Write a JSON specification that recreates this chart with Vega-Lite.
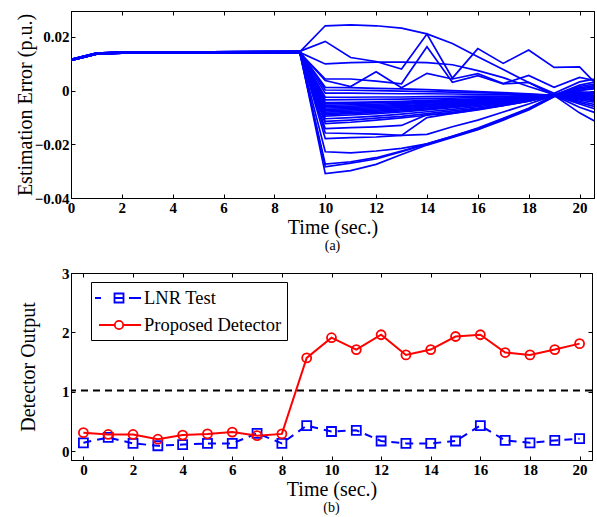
{
"$schema": "https://vega.github.io/schema/vega-lite/v6.json",
"padding": {"left": 14, "top": 10, "right": 2, "bottom": 2},
"background": "white",
"bounds": "flush",
"datasets": {
"err": [
{"s":1,"t":0,"v":0.0113},{"s":1,"t":1,"v":0.0136},{"s":1,"t":2,"v":0.0140},{"s":1,"t":9,"v":0.0144},
{"s":1,"t":10,"v":0.0241},{"s":1,"t":11,"v":0.0244},{"s":1,"t":12,"v":0.0241},{"s":1,"t":13,"v":0.0232},{"s":1,"t":14,"v":0.0211},{"s":1,"t":15,"v":0.0175},{"s":1,"t":16,"v":0.0126},{"s":1,"t":17,"v":0.0078},{"s":1,"t":18,"v":0.0030},{"s":1,"t":19,"v":-0.0018},{"s":1,"t":20,"v":-0.0062},{"s":1,"t":21,"v":-0.0095},
{"s":2,"t":0,"v":0.0115},{"s":2,"t":1,"v":0.0138},{"s":2,"t":2,"v":0.0142},{"s":2,"t":9,"v":0.0146},
{"s":2,"t":10,"v":0.0183},{"s":2,"t":11,"v":0.0123},{"s":2,"t":12,"v":0.0108},{"s":2,"t":13,"v":0.0080},{"s":2,"t":14,"v":0.0210},{"s":2,"t":15,"v":0.0046},{"s":2,"t":16,"v":0.0156},{"s":2,"t":17,"v":0.0101},{"s":2,"t":18,"v":0.0151},{"s":2,"t":19,"v":0.0086},{"s":2,"t":20,"v":0.0088},{"s":2,"t":21,"v":-0.0009},
{"s":3,"t":0,"v":0.0114},{"s":3,"t":1,"v":0.0137},{"s":3,"t":2,"v":0.0141},{"s":3,"t":9,"v":0.0142},
{"s":3,"t":10,"v":0.0099},{"s":3,"t":11,"v":0.0104},{"s":3,"t":12,"v":0.0106},{"s":3,"t":13,"v":0.0106},{"s":3,"t":14,"v":0.0104},{"s":3,"t":15,"v":0.0096},{"s":3,"t":16,"v":0.0074},{"s":3,"t":17,"v":0.0048},{"s":3,"t":18,"v":0.0015},{"s":3,"t":19,"v":-0.0015},{"s":3,"t":20,"v":0.0010},{"s":3,"t":21,"v":0.0025},
{"s":4,"t":0,"v":0.0116},{"s":4,"t":1,"v":0.0139},{"s":4,"t":2,"v":0.0143},{"s":4,"t":9,"v":0.0139},
{"s":4,"t":10,"v":0.0043},{"s":4,"t":11,"v":0.0043},{"s":4,"t":12,"v":0.0035},{"s":4,"t":13,"v":0.0025},{"s":4,"t":14,"v":0.0163},{"s":4,"t":15,"v":0.0031},{"s":4,"t":16,"v":0.0055},{"s":4,"t":17,"v":0.0025},{"s":4,"t":18,"v":0.0030},{"s":4,"t":19,"v":-0.0010},{"s":4,"t":20,"v":0.0032},{"s":4,"t":21,"v":0.0050},
{"s":5,"t":0,"v":0.0112},{"s":5,"t":1,"v":0.0135},{"s":5,"t":2,"v":0.0139},{"s":5,"t":9,"v":0.0141},
{"s":5,"t":10,"v":0.0037},{"s":5,"t":11,"v":0.0015},{"s":5,"t":12,"v":0.0070},{"s":5,"t":13,"v":0.0010},{"s":5,"t":14,"v":0.0064},{"s":5,"t":15,"v":0.0043},{"s":5,"t":16,"v":0.0063},{"s":5,"t":17,"v":0.0026},{"s":5,"t":18,"v":0.0056},{"s":5,"t":19,"v":0.0012},{"s":5,"t":20,"v":0.0049},{"s":5,"t":21,"v":0.0030},
{"s":6,"t":0,"v":0.0113},{"s":6,"t":1,"v":0.0136},{"s":6,"t":2,"v":0.0140},{"s":6,"t":9,"v":0.0144},
{"s":6,"t":10,"v":0.0012},{"s":6,"t":11,"v":0.0011},{"s":6,"t":12,"v":0.0008},{"s":6,"t":13,"v":0.0006},{"s":6,"t":14,"v":0.0003},{"s":6,"t":15,"v":0.0000},{"s":6,"t":16,"v":-0.0004},{"s":6,"t":17,"v":-0.0008},{"s":6,"t":18,"v":-0.0012},{"s":6,"t":19,"v":-0.0018},{"s":6,"t":20,"v":0.0020},{"s":6,"t":21,"v":0.0040},
{"s":7,"t":0,"v":0.0115},{"s":7,"t":1,"v":0.0138},{"s":7,"t":2,"v":0.0142},{"s":7,"t":9,"v":0.0146},
{"s":7,"t":10,"v":0.0002},{"s":7,"t":11,"v":0.0001},{"s":7,"t":12,"v":0.0000},{"s":7,"t":13,"v":-0.0002},{"s":7,"t":14,"v":-0.0004},{"s":7,"t":15,"v":-0.0006},{"s":7,"t":16,"v":-0.0008},{"s":7,"t":17,"v":-0.0011},{"s":7,"t":18,"v":-0.0014},{"s":7,"t":19,"v":-0.0018},{"s":7,"t":20,"v":-0.0010},{"s":7,"t":21,"v":-0.0005},
{"s":8,"t":0,"v":0.0114},{"s":8,"t":1,"v":0.0137},{"s":8,"t":2,"v":0.0141},{"s":8,"t":9,"v":0.0142},
{"s":8,"t":10,"v":-0.0010},{"s":8,"t":11,"v":-0.0010},{"s":8,"t":12,"v":-0.0011},{"s":8,"t":13,"v":-0.0012},{"s":8,"t":14,"v":-0.0012},{"s":8,"t":15,"v":-0.0013},{"s":8,"t":16,"v":-0.0014},{"s":8,"t":17,"v":-0.0015},{"s":8,"t":18,"v":-0.0016},{"s":8,"t":19,"v":-0.0018},{"s":8,"t":20,"v":-0.0030},{"s":8,"t":21,"v":-0.0040},
{"s":9,"t":0,"v":0.0116},{"s":9,"t":1,"v":0.0139},{"s":9,"t":2,"v":0.0143},{"s":9,"t":9,"v":0.0139},
{"s":9,"t":10,"v":-0.0025},{"s":9,"t":11,"v":-0.0025},{"s":9,"t":12,"v":-0.0024},{"s":9,"t":13,"v":-0.0024},{"s":9,"t":14,"v":-0.0023},{"s":9,"t":15,"v":-0.0022},{"s":9,"t":16,"v":-0.0021},{"s":9,"t":17,"v":-0.0021},{"s":9,"t":18,"v":-0.0019},{"s":9,"t":19,"v":-0.0018},{"s":9,"t":20,"v":0.0005},{"s":9,"t":21,"v":0.0020},
{"s":10,"t":0,"v":0.0112},{"s":10,"t":1,"v":0.0135},{"s":10,"t":2,"v":0.0139},{"s":10,"t":9,"v":0.0141},
{"s":10,"t":10,"v":-0.0035},{"s":10,"t":11,"v":-0.0034},{"s":10,"t":12,"v":-0.0033},{"s":10,"t":13,"v":-0.0032},{"s":10,"t":14,"v":-0.0030},{"s":10,"t":15,"v":-0.0028},{"s":10,"t":16,"v":-0.0026},{"s":10,"t":17,"v":-0.0024},{"s":10,"t":18,"v":-0.0021},{"s":10,"t":19,"v":-0.0018},{"s":10,"t":20,"v":-0.0020},{"s":10,"t":21,"v":-0.0015},
{"s":11,"t":0,"v":0.0113},{"s":11,"t":1,"v":0.0136},{"s":11,"t":2,"v":0.0140},{"s":11,"t":9,"v":0.0144},
{"s":11,"t":10,"v":-0.0045},{"s":11,"t":11,"v":-0.0044},{"s":11,"t":12,"v":-0.0042},{"s":11,"t":13,"v":-0.0040},{"s":11,"t":14,"v":-0.0037},{"s":11,"t":15,"v":-0.0034},{"s":11,"t":16,"v":-0.0031},{"s":11,"t":17,"v":-0.0028},{"s":11,"t":18,"v":-0.0023},{"s":11,"t":19,"v":-0.0018},{"s":11,"t":20,"v":-0.0040},{"s":11,"t":21,"v":-0.0060},
{"s":12,"t":0,"v":0.0115},{"s":12,"t":1,"v":0.0138},{"s":12,"t":2,"v":0.0142},{"s":12,"t":9,"v":0.0146},
{"s":12,"t":10,"v":-0.0050},{"s":12,"t":11,"v":-0.0048},{"s":12,"t":12,"v":-0.0046},{"s":12,"t":13,"v":-0.0044},{"s":12,"t":14,"v":-0.0040},{"s":12,"t":15,"v":-0.0037},{"s":12,"t":16,"v":-0.0033},{"s":12,"t":17,"v":-0.0029},{"s":12,"t":18,"v":-0.0024},{"s":12,"t":19,"v":-0.0018},{"s":12,"t":20,"v":-0.0015},{"s":12,"t":21,"v":-0.0025},
{"s":13,"t":0,"v":0.0114},{"s":13,"t":1,"v":0.0137},{"s":13,"t":2,"v":0.0141},{"s":13,"t":9,"v":0.0142},
{"s":13,"t":10,"v":-0.0055},{"s":13,"t":11,"v":-0.0053},{"s":13,"t":12,"v":-0.0051},{"s":13,"t":13,"v":-0.0048},{"s":13,"t":14,"v":-0.0044},{"s":13,"t":15,"v":-0.0040},{"s":13,"t":16,"v":-0.0036},{"s":13,"t":17,"v":-0.0031},{"s":13,"t":18,"v":-0.0025},{"s":13,"t":19,"v":-0.0018},{"s":13,"t":20,"v":-0.0025},{"s":13,"t":21,"v":-0.0035},
{"s":14,"t":0,"v":0.0116},{"s":14,"t":1,"v":0.0139},{"s":14,"t":2,"v":0.0143},{"s":14,"t":9,"v":0.0139},
{"s":14,"t":10,"v":-0.0060},{"s":14,"t":11,"v":-0.0058},{"s":14,"t":12,"v":-0.0055},{"s":14,"t":13,"v":-0.0052},{"s":14,"t":14,"v":-0.0047},{"s":14,"t":15,"v":-0.0043},{"s":14,"t":16,"v":-0.0038},{"s":14,"t":17,"v":-0.0033},{"s":14,"t":18,"v":-0.0026},{"s":14,"t":19,"v":-0.0018},{"s":14,"t":20,"v":0.0000},{"s":14,"t":21,"v":0.0010},
{"s":15,"t":0,"v":0.0112},{"s":15,"t":1,"v":0.0135},{"s":15,"t":2,"v":0.0139},{"s":15,"t":9,"v":0.0141},
{"s":15,"t":10,"v":-0.0065},{"s":15,"t":11,"v":-0.0063},{"s":15,"t":12,"v":-0.0059},{"s":15,"t":13,"v":-0.0056},{"s":15,"t":14,"v":-0.0051},{"s":15,"t":15,"v":-0.0046},{"s":15,"t":16,"v":-0.0041},{"s":15,"t":17,"v":-0.0035},{"s":15,"t":18,"v":-0.0027},{"s":15,"t":19,"v":-0.0018},{"s":15,"t":20,"v":-0.0035},{"s":15,"t":21,"v":-0.0050},
{"s":16,"t":0,"v":0.0113},{"s":16,"t":1,"v":0.0136},{"s":16,"t":2,"v":0.0140},{"s":16,"t":9,"v":0.0144},
{"s":16,"t":10,"v":-0.0070},{"s":16,"t":11,"v":-0.0067},{"s":16,"t":12,"v":-0.0064},{"s":16,"t":13,"v":-0.0060},{"s":16,"t":14,"v":-0.0054},{"s":16,"t":15,"v":-0.0049},{"s":16,"t":16,"v":-0.0043},{"s":16,"t":17,"v":-0.0036},{"s":16,"t":18,"v":-0.0028},{"s":16,"t":19,"v":-0.0018},{"s":16,"t":20,"v":-0.0022},{"s":16,"t":21,"v":-0.0020},
{"s":17,"t":0,"v":0.0115},{"s":17,"t":1,"v":0.0138},{"s":17,"t":2,"v":0.0142},{"s":17,"t":9,"v":0.0146},
{"s":17,"t":10,"v":-0.0075},{"s":17,"t":11,"v":-0.0072},{"s":17,"t":12,"v":-0.0068},{"s":17,"t":13,"v":-0.0064},{"s":17,"t":14,"v":-0.0058},{"s":17,"t":15,"v":-0.0052},{"s":17,"t":16,"v":-0.0045},{"s":17,"t":17,"v":-0.0038},{"s":17,"t":18,"v":-0.0029},{"s":17,"t":19,"v":-0.0018},{"s":17,"t":20,"v":-0.0050},{"s":17,"t":21,"v":-0.0080},
{"s":18,"t":0,"v":0.0114},{"s":18,"t":1,"v":0.0137},{"s":18,"t":2,"v":0.0141},{"s":18,"t":9,"v":0.0142},
{"s":18,"t":10,"v":-0.0080},{"s":18,"t":11,"v":-0.0077},{"s":18,"t":12,"v":-0.0073},{"s":18,"t":13,"v":-0.0068},{"s":18,"t":14,"v":-0.0061},{"s":18,"t":15,"v":-0.0055},{"s":18,"t":16,"v":-0.0048},{"s":18,"t":17,"v":-0.0040},{"s":18,"t":18,"v":-0.0030},{"s":18,"t":19,"v":-0.0018},{"s":18,"t":20,"v":-0.0005},{"s":18,"t":21,"v":-0.0010},
{"s":19,"t":0,"v":0.0116},{"s":19,"t":1,"v":0.0139},{"s":19,"t":2,"v":0.0143},{"s":19,"t":9,"v":0.0139},
{"s":19,"t":10,"v":-0.0085},{"s":19,"t":11,"v":-0.0082},{"s":19,"t":12,"v":-0.0077},{"s":19,"t":13,"v":-0.0072},{"s":19,"t":14,"v":-0.0065},{"s":19,"t":15,"v":-0.0058},{"s":19,"t":16,"v":-0.0050},{"s":19,"t":17,"v":-0.0042},{"s":19,"t":18,"v":-0.0031},{"s":19,"t":19,"v":-0.0018},{"s":19,"t":20,"v":-0.0030},{"s":19,"t":21,"v":-0.0030},
{"s":20,"t":0,"v":0.0112},{"s":20,"t":1,"v":0.0135},{"s":20,"t":2,"v":0.0139},{"s":20,"t":9,"v":0.0141},
{"s":20,"t":10,"v":-0.0090},{"s":20,"t":11,"v":-0.0086},{"s":20,"t":12,"v":-0.0081},{"s":20,"t":13,"v":-0.0076},{"s":20,"t":14,"v":-0.0068},{"s":20,"t":15,"v":-0.0061},{"s":20,"t":16,"v":-0.0053},{"s":20,"t":17,"v":-0.0043},{"s":20,"t":18,"v":-0.0032},{"s":20,"t":19,"v":-0.0018},{"s":20,"t":20,"v":-0.0018},{"s":20,"t":21,"v":-0.0025},
{"s":21,"t":0,"v":0.0113},{"s":21,"t":1,"v":0.0136},{"s":21,"t":2,"v":0.0140},{"s":21,"t":9,"v":0.0144},
{"s":21,"t":10,"v":-0.0095},{"s":21,"t":11,"v":-0.0091},{"s":21,"t":12,"v":-0.0086},{"s":21,"t":13,"v":-0.0080},{"s":21,"t":14,"v":-0.0072},{"s":21,"t":15,"v":-0.0064},{"s":21,"t":16,"v":-0.0055},{"s":21,"t":17,"v":-0.0045},{"s":21,"t":18,"v":-0.0033},{"s":21,"t":19,"v":-0.0018},{"s":21,"t":20,"v":-0.0045},{"s":21,"t":21,"v":-0.0070},
{"s":22,"t":0,"v":0.0115},{"s":22,"t":1,"v":0.0138},{"s":22,"t":2,"v":0.0142},{"s":22,"t":9,"v":0.0146},
{"s":22,"t":10,"v":-0.0105},{"s":22,"t":11,"v":-0.0101},{"s":22,"t":12,"v":-0.0095},{"s":22,"t":13,"v":-0.0088},{"s":22,"t":14,"v":-0.0079},{"s":22,"t":15,"v":-0.0070},{"s":22,"t":16,"v":-0.0060},{"s":22,"t":17,"v":-0.0049},{"s":22,"t":18,"v":-0.0035},{"s":22,"t":19,"v":-0.0018},{"s":22,"t":20,"v":0.0015},{"s":22,"t":21,"v":0.0030},
{"s":23,"t":0,"v":0.0114},{"s":23,"t":1,"v":0.0137},{"s":23,"t":2,"v":0.0141},{"s":23,"t":9,"v":0.0142},
{"s":23,"t":10,"v":-0.0115},{"s":23,"t":11,"v":-0.0110},{"s":23,"t":12,"v":-0.0103},{"s":23,"t":13,"v":-0.0096},{"s":23,"t":14,"v":-0.0086},{"s":23,"t":15,"v":-0.0076},{"s":23,"t":16,"v":-0.0065},{"s":23,"t":17,"v":-0.0052},{"s":23,"t":18,"v":-0.0037},{"s":23,"t":19,"v":-0.0018},{"s":23,"t":20,"v":-0.0028},{"s":23,"t":21,"v":-0.0045},
{"s":24,"t":0,"v":0.0116},{"s":24,"t":1,"v":0.0139},{"s":24,"t":2,"v":0.0143},{"s":24,"t":9,"v":0.0139},
{"s":24,"t":10,"v":-0.0123},{"s":24,"t":11,"v":-0.0118},{"s":24,"t":12,"v":-0.0110},{"s":24,"t":13,"v":-0.0102},{"s":24,"t":14,"v":-0.0092},{"s":24,"t":15,"v":-0.0081},{"s":24,"t":16,"v":-0.0068},{"s":24,"t":17,"v":-0.0055},{"s":24,"t":18,"v":-0.0039},{"s":24,"t":19,"v":-0.0018},{"s":24,"t":20,"v":-0.0012},{"s":24,"t":21,"v":-0.0010},
{"s":25,"t":0,"v":0.0112},{"s":25,"t":1,"v":0.0135},{"s":25,"t":2,"v":0.0139},{"s":25,"t":9,"v":0.0141},
{"s":25,"t":10,"v":-0.0142},{"s":25,"t":11,"v":-0.0138},{"s":25,"t":12,"v":-0.0135},{"s":25,"t":13,"v":-0.0130},{"s":25,"t":14,"v":-0.0090},{"s":25,"t":15,"v":-0.0085},{"s":25,"t":16,"v":-0.0070},{"s":25,"t":17,"v":-0.0055},{"s":25,"t":18,"v":-0.0040},{"s":25,"t":19,"v":-0.0018},{"s":25,"t":20,"v":-0.0083},{"s":25,"t":21,"v":-0.0135},
{"s":26,"t":0,"v":0.0113},{"s":26,"t":1,"v":0.0136},{"s":26,"t":2,"v":0.0140},{"s":26,"t":9,"v":0.0144},
{"s":26,"t":10,"v":-0.0158},{"s":26,"t":11,"v":-0.0160},{"s":26,"t":12,"v":-0.0162},{"s":26,"t":13,"v":-0.0167},{"s":26,"t":14,"v":-0.0101},{"s":26,"t":15,"v":-0.0085},{"s":26,"t":16,"v":-0.0072},{"s":26,"t":17,"v":-0.0056},{"s":26,"t":18,"v":-0.0040},{"s":26,"t":19,"v":-0.0018},{"s":26,"t":20,"v":-0.0020},{"s":26,"t":21,"v":-0.0030},
{"s":27,"t":0,"v":0.0115},{"s":27,"t":1,"v":0.0138},{"s":27,"t":2,"v":0.0142},{"s":27,"t":9,"v":0.0146},
{"s":27,"t":10,"v":-0.0179},{"s":27,"t":11,"v":-0.0175},{"s":27,"t":12,"v":-0.0173},{"s":27,"t":13,"v":-0.0167},{"s":27,"t":14,"v":-0.0163},{"s":27,"t":15,"v":-0.0135},{"s":27,"t":16,"v":-0.0110},{"s":27,"t":17,"v":-0.0080},{"s":27,"t":18,"v":-0.0050},{"s":27,"t":19,"v":-0.0018},{"s":27,"t":20,"v":-0.0032},{"s":27,"t":21,"v":-0.0030},
{"s":28,"t":0,"v":0.0114},{"s":28,"t":1,"v":0.0137},{"s":28,"t":2,"v":0.0141},{"s":28,"t":9,"v":0.0142},
{"s":28,"t":10,"v":-0.0228},{"s":28,"t":11,"v":-0.0232},{"s":28,"t":12,"v":-0.0225},{"s":28,"t":13,"v":-0.0215},{"s":28,"t":14,"v":-0.0198},{"s":28,"t":15,"v":-0.0170},{"s":28,"t":16,"v":-0.0142},{"s":28,"t":17,"v":-0.0105},{"s":28,"t":18,"v":-0.0068},{"s":28,"t":19,"v":-0.0020},{"s":28,"t":20,"v":-0.0015},{"s":28,"t":21,"v":-0.0010},
{"s":29,"t":0,"v":0.0116},{"s":29,"t":1,"v":0.0139},{"s":29,"t":2,"v":0.0143},{"s":29,"t":9,"v":0.0139},
{"s":29,"t":10,"v":-0.0274},{"s":29,"t":11,"v":-0.0265},{"s":29,"t":12,"v":-0.0250},{"s":29,"t":13,"v":-0.0225},{"s":29,"t":14,"v":-0.0198},{"s":29,"t":15,"v":-0.0170},{"s":29,"t":16,"v":-0.0140},{"s":29,"t":17,"v":-0.0103},{"s":29,"t":18,"v":-0.0066},{"s":29,"t":19,"v":-0.0018},{"s":29,"t":20,"v":-0.0025},{"s":29,"t":21,"v":-0.0035},
{"s":30,"t":0,"v":0.0112},{"s":30,"t":1,"v":0.0135},{"s":30,"t":2,"v":0.0139},{"s":30,"t":9,"v":0.0141},
{"s":30,"t":10,"v":-0.0284},{"s":30,"t":11,"v":-0.0270},{"s":30,"t":12,"v":-0.0255},{"s":30,"t":13,"v":-0.0228},{"s":30,"t":14,"v":-0.0200},{"s":30,"t":15,"v":-0.0173},{"s":30,"t":16,"v":-0.0144},{"s":30,"t":17,"v":-0.0108},{"s":30,"t":18,"v":-0.0070},{"s":30,"t":19,"v":-0.0022},{"s":30,"t":20,"v":0.0000},{"s":30,"t":21,"v":0.0015},
{"s":31,"t":0,"v":0.0113},{"s":31,"t":1,"v":0.0136},{"s":31,"t":2,"v":0.0140},{"s":31,"t":9,"v":0.0144},
{"s":31,"t":10,"v":-0.0309},{"s":31,"t":11,"v":-0.0298},{"s":31,"t":12,"v":-0.0275},{"s":31,"t":13,"v":-0.0238},{"s":31,"t":14,"v":-0.0203},{"s":31,"t":15,"v":-0.0175},{"s":31,"t":16,"v":-0.0146},{"s":31,"t":17,"v":-0.0110},{"s":31,"t":18,"v":-0.0072},{"s":31,"t":19,"v":-0.0023},{"s":31,"t":20,"v":-0.0010},{"s":31,"t":21,"v":-0.0005}
],
"det": [
{"t":0,"series":"LNR Test","v":0.14},{"t":1,"series":"LNR Test","v":0.23},{"t":2,"series":"LNR Test","v":0.13},{"t":3,"series":"LNR Test","v":0.09},{"t":4,"series":"LNR Test","v":0.11},{"t":5,"series":"LNR Test","v":0.13},{"t":6,"series":"LNR Test","v":0.13},{"t":7,"series":"LNR Test","v":0.30},{"t":8,"series":"LNR Test","v":0.13},{"t":9,"series":"LNR Test","v":0.43},{"t":10,"series":"LNR Test","v":0.33},{"t":11,"series":"LNR Test","v":0.35},{"t":12,"series":"LNR Test","v":0.17},{"t":13,"series":"LNR Test","v":0.13},{"t":14,"series":"LNR Test","v":0.13},{"t":15,"series":"LNR Test","v":0.17},{"t":16,"series":"LNR Test","v":0.43},{"t":17,"series":"LNR Test","v":0.18},{"t":18,"series":"LNR Test","v":0.14},{"t":19,"series":"LNR Test","v":0.18},{"t":20,"series":"LNR Test","v":0.21},
{"t":0,"series":"Proposed Detector","v":0.31},{"t":1,"series":"Proposed Detector","v":0.28},{"t":2,"series":"Proposed Detector","v":0.28},{"t":3,"series":"Proposed Detector","v":0.20},{"t":4,"series":"Proposed Detector","v":0.27},{"t":5,"series":"Proposed Detector","v":0.29},{"t":6,"series":"Proposed Detector","v":0.32},{"t":7,"series":"Proposed Detector","v":0.26},{"t":8,"series":"Proposed Detector","v":0.29},{"t":9,"series":"Proposed Detector","v":1.57},{"t":10,"series":"Proposed Detector","v":1.91},{"t":11,"series":"Proposed Detector","v":1.71},{"t":12,"series":"Proposed Detector","v":1.96},{"t":13,"series":"Proposed Detector","v":1.62},{"t":14,"series":"Proposed Detector","v":1.71},{"t":15,"series":"Proposed Detector","v":1.93},{"t":16,"series":"Proposed Detector","v":1.96},{"t":17,"series":"Proposed Detector","v":1.66},{"t":18,"series":"Proposed Detector","v":1.62},{"t":19,"series":"Proposed Detector","v":1.71},{"t":20,"series":"Proposed Detector","v":1.81}
],
"thr": [{"level": 1.02}]
},
"vconcat": [
{
"width": 523, "height": 187,
"data": {"name": "err"},
"title": {"text": "(a)", "orient": "bottom", "offset": 2},
"layer": [
{"mark": {"type": "line", "color": "#0000ff", "strokeWidth": 1.7, "clip": true},
 "encoding": {
  "x": {"field": "t", "type": "quantitative", "scale": {"domain": [0, 20.57], "nice": false, "zero": false},
        "axis": {"orient": "bottom", "values": [0,2,4,6,8,10,12,14,16,18,20], "title": "Time (sec.)", "titlePadding": 2}},
  "y": {"field": "v", "type": "quantitative", "scale": {"domain": [-0.04, 0.0296], "nice": false, "zero": false},
        "axis": {"orient": "left", "values": [-0.04,-0.02,0,0.02], "labelExpr": "datum.value === 0 ? '0' : format(datum.value, '.2f')", "title": "Estimation Error (p.u.)", "titlePadding": -1}},
  "detail": {"field": "s", "type": "nominal"}
 }},
{"transform": [{"filter": "datum.s == 1"}],
 "mark": {"type": "point", "opacity": 0},
 "encoding": {
  "x": {"field": "t", "type": "quantitative", "axis": {"orient": "top", "labels": false, "title": null, "values": [0,2,4,6,8,10,12,14,16,18,20]}},
  "y": {"field": "v", "type": "quantitative", "axis": {"orient": "right", "labels": false, "title": null, "values": [-0.04,-0.02,0,0.02]}}
 }}
],
"resolve": {"axis": {"x": "independent", "y": "independent"}}
},
{
"width": 521, "height": 187,
"title": {"text": "(b)", "orient": "bottom", "offset": 2},
"layer": [
{"data": {"name": "thr"},
 "mark": {"type": "rule", "color": "black", "strokeWidth": 2, "strokeDash": [7, 5]},
 "encoding": {"y": {"field": "level", "type": "quantitative", "axis": null}}},
{"data": {"name": "det"},
 "transform": [{"filter": "datum.series == 'LNR Test'"}],
 "mark": {"type": "line", "color": "#0000ff", "strokeWidth": 2, "strokeDash": [8, 6]},
 "encoding": {
  "x": {"field": "t", "type": "quantitative", "scale": {"domain": [-0.5, 20.5], "nice": false, "zero": false},
        "axis": {"orient": "bottom", "values": [0,2,4,6,8,10,12,14,16,18,20], "title": "Time (sec.)", "titlePadding": 2}},
  "y": {"field": "v", "type": "quantitative", "scale": {"domain": [-0.15, 3], "nice": false, "zero": false},
        "axis": {"orient": "left", "values": [0,1,2,3], "title": "Detector Output", "titlePadding": 23}}
 }},
{"data": {"name": "det"},
 "transform": [{"filter": "datum.series == 'LNR Test'"}],
 "mark": {"type": "point", "shape": "square", "filled": false, "color": "#0000ff", "size": 81, "strokeWidth": 1.8, "opacity": 1},
 "encoding": {"x": {"field": "t", "type": "quantitative", "axis": null}, "y": {"field": "v", "type": "quantitative", "axis": null}}},
{"data": {"name": "det"},
 "transform": [{"filter": "datum.series == 'Proposed Detector'"}],
 "mark": {"type": "line", "color": "#ff0000", "strokeWidth": 2},
 "encoding": {"x": {"field": "t", "type": "quantitative", "axis": null}, "y": {"field": "v", "type": "quantitative", "axis": null}}},
{"data": {"name": "det"},
 "transform": [{"filter": "datum.series == 'Proposed Detector'"}],
 "mark": {"type": "point", "shape": "circle", "filled": false, "color": "#ff0000", "size": 81, "strokeWidth": 1.8, "opacity": 1},
 "encoding": {"x": {"field": "t", "type": "quantitative", "axis": null}, "y": {"field": "v", "type": "quantitative", "axis": null}}},
{"data": {"name": "det"},
 "mark": {"type": "point", "opacity": 0, "filled": false},
 "encoding": {
  "x": {"field": "t", "type": "quantitative", "axis": {"orient": "top", "labels": false, "title": null, "values": [0,2,4,6,8,10,12,14,16,18,20]}},
  "y": {"field": "v", "type": "quantitative", "axis": {"orient": "right", "labels": false, "title": null, "values": [0,1,2,3]}},
  "color": {"field": "series", "type": "nominal",
    "scale": {"domain": ["LNR Test", "Proposed Detector"], "range": ["#0000ff", "#ff0000"]},
    "legend": {"orient": "none", "legendX": 20, "legendY": 271, "title": null, "strokeColor": "black", "fillColor": "white", "padding": 5, "symbolSize": 400, "symbolOffset": 12, "labelOffset": 14, "rowPadding": 6, "symbolStrokeWidth": 1.8, "symbolOpacity": 1, "symbolFillColor": "white", "labelFont": "Liberation Serif", "labelFontSize": 18.5, "labelColor": "black", "labelLimit": 300}},
  "shape": {"field": "series", "type": "nominal",
    "scale": {"domain": ["LNR Test", "Proposed Detector"], "range": ["M-2.4,0H-1.8M-0.45,-0.45H0.45V0.45H-0.45ZM-0.45,0H0.45M1.0,0H2.2", "M-2.0,0H-0.42M0.42,0H2.2M0.42,0A0.42,0.42,0,1,1,-0.42,0A0.42,0.42,0,1,1,0.42,0"]},
    "legend": {"orient": "none", "legendX": 20, "legendY": 271, "title": null, "strokeColor": "black", "fillColor": "white", "padding": 5, "symbolSize": 400, "symbolOffset": 12, "labelOffset": 14, "rowPadding": 6, "symbolStrokeWidth": 1.8, "symbolOpacity": 1, "symbolFillColor": "white", "labelFont": "Liberation Serif", "labelFontSize": 18.5, "labelColor": "black", "labelLimit": 300}}
 }}
],
"resolve": {"axis": {"x": "independent", "y": "independent"}}
}
],
"spacing": 75,
"config": {
 "view": {"stroke": "black", "strokeWidth": 1},
 "axis": {"domainColor": "black", "domainWidth": 1, "tickColor": "black", "tickWidth": 1, "tickSize": -4, "labelPadding": 6, "labelFlush": false, "labelOverlap": false, "labelColor": "black", "titleColor": "black", "labelFont": "Liberation Serif", "labelFontWeight": "bold", "labelFontSize": 15, "titleFont": "Liberation Serif", "titleFontWeight": "normal", "titleFontSize": 20, "grid": false},
 "title": {"font": "Liberation Serif", "fontWeight": "normal", "fontSize": 14, "color": "black"}
}
}
